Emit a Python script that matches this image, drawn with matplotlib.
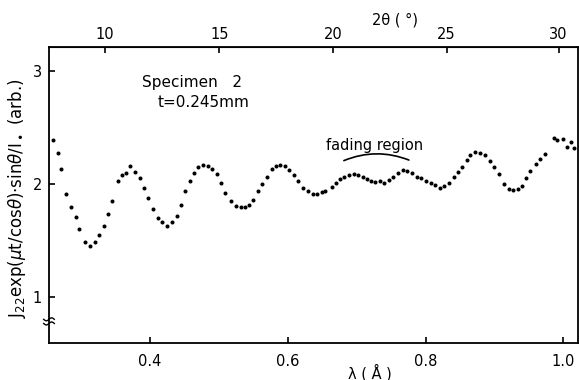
# -*- coding: utf-8 -*-
r"""
Recreates the transmission spectrum plot for specimen 2 (dots vs. wavelength).
"""

#%% Imports
import numpy as np
import matplotlib
matplotlib.use('Agg')
import matplotlib.pyplot as plt

#%% Data
# wavelength [Angstrom]
lam = [0.2595, 0.2663, 0.2715, 0.2787, 0.2856, 0.2924, 0.2976, 0.3059, 0.3131, 0.3204,
       0.3266, 0.3330, 0.3392, 0.3455, 0.3533, 0.3591, 0.3653, 0.3716, 0.3780, 0.3852,
       0.3914, 0.3977, 0.4041, 0.4113, 0.4175, 0.4244, 0.4321, 0.4389, 0.4451, 0.4516,
       0.4577, 0.4635, 0.4702, 0.4774, 0.4843, 0.4905, 0.4969, 0.5031, 0.5094, 0.5172,
       0.5249, 0.5317, 0.5384, 0.5442, 0.5495, 0.5568, 0.5630, 0.5694, 0.5766, 0.5829,
       0.5887, 0.5955, 0.6022, 0.6094, 0.6152, 0.6225, 0.6297, 0.6370, 0.6431, 0.6492,
       0.6544, 0.6637, 0.6699, 0.6757, 0.6819, 0.6888, 0.6956, 0.7022, 0.7086, 0.7144,
       0.7202, 0.7265, 0.7337, 0.7395, 0.7463, 0.7530, 0.7603, 0.7666, 0.7733, 0.7801,
       0.7869, 0.7936, 0.8004, 0.8073, 0.8139, 0.8207, 0.8273, 0.8338, 0.8410, 0.8473,
       0.8531, 0.8595, 0.8647, 0.8719, 0.8792, 0.8860, 0.8933, 0.8995, 0.9059, 0.9136,
       0.9204, 0.9266, 0.9334, 0.9392, 0.9455, 0.9517, 0.9595, 0.9662, 0.9735, 0.9865,
       0.9909, 0.9987, 1.0054, 1.0107, 1.0155]
# normalized intensity [arb.]
inten = [2.387, 2.269, 2.133, 1.912, 1.796, 1.703, 1.596, 1.481, 1.449, 1.481,
         1.549, 1.628, 1.735, 1.850, 2.024, 2.074, 2.092, 2.159, 2.104, 2.053,
         1.965, 1.873, 1.773, 1.699, 1.664, 1.626, 1.661, 1.714, 1.812, 1.938,
         2.027, 2.092, 2.145, 2.163, 2.159, 2.127, 2.086, 2.004, 1.920, 1.847,
         1.805, 1.791, 1.796, 1.814, 1.853, 1.938, 1.997, 2.062, 2.133, 2.159,
         2.168, 2.159, 2.121, 2.080, 2.024, 1.965, 1.938, 1.912, 1.913, 1.927,
         1.938, 1.971, 2.004, 2.044, 2.057, 2.074, 2.083, 2.074, 2.062, 2.044,
         2.027, 2.012, 2.024, 2.004, 2.030, 2.062, 2.092, 2.121, 2.115, 2.097,
         2.057, 2.048, 2.027, 2.004, 1.986, 1.966, 1.980, 2.006, 2.059, 2.101,
         2.145, 2.207, 2.251, 2.283, 2.269, 2.254, 2.198, 2.148, 2.088, 1.995,
         1.953, 1.944, 1.950, 1.982, 2.048, 2.110, 2.174, 2.216, 2.260, 2.404,
         2.384, 2.393, 2.327, 2.366, 2.313]

x_ticks  = [0.4, 0.6, 0.8, 1.0]
y_ticks  = [1, 2, 3]
tt_ticks = [10, 15, 20, 25, 30]
two_d    = 3.837  # lattice spacing 2d [Angstrom] used for the 2-theta axis

#%% Helpers
def lam_to_tt(x):
    return 2 * np.degrees(np.arcsin(np.clip(np.asarray(x) / two_d, -1, 1)))

def tt_to_lam(t):
    return two_d * np.sin(np.radians(np.asarray(t) / 2))

#%% Plot
plt.rcParams['font.family'] = 'DejaVu Sans'
fig = plt.figure(figsize=(5.79, 3.80), dpi=100)
ax = fig.add_axes([0.0846, 0.0974, 0.9134, 0.7786])

ax.plot(lam, inten, linestyle='none', marker='o', markersize=1.9, color='black')

ax.set_xlim(0.2537, 1.0209)
ax.set_ylim(0.59, 3.21)
ax.set_xticks(x_ticks)
ax.set_xticklabels(['0.4', '0.6', '0.8', '1.0'])
ax.set_yticks(y_ticks)
ax.tick_params(direction='in', length=4, width=1.2, labelsize=10.5, pad=8)
ax.tick_params(axis='y', pad=5)
for s in ax.spines.values():
    s.set_linewidth(1.3)

ax.set_xlabel(u'\u03bb ( \u00c5 )', fontsize=10.5)
ax.xaxis.set_label_coords(0.607, -0.07)
ax.set_ylabel(r'J$_{22}$exp($\mu$t/cos$\theta$)$\cdot$sin$\theta$/I$_\bullet$ (arb.)', fontsize=12)
ax.yaxis.set_label_coords(-0.040, 0.49)

# top 2-theta axis
sec = ax.secondary_xaxis('top', functions=(lam_to_tt, tt_to_lam))
sec.set_xticks(tt_ticks)
sec.tick_params(direction='in', length=4, width=1.2, labelsize=10.5, pad=4)
ax.text(0.654, 1.092, u'2\u03b8 ( \u00b0)', transform=ax.transAxes, fontsize=10.5,
        ha='center', va='center')

# y-axis break marks
for yb in [0.066, 0.080]:
    xs = np.linspace(-0.01, 0.01, 20)
    ax.plot(xs, yb + 0.005 * np.sin(xs / 0.01 * np.pi), transform=ax.transAxes,
            color='black', linewidth=1.0, clip_on=False)

# annotations
ax.text(0.175, 0.882, 'Specimen   2', transform=ax.transAxes, fontsize=11, va='center')
ax.text(0.205, 0.814, 't=0.245mm', transform=ax.transAxes, fontsize=11, va='center')
ax.text(0.7255, 2.34, 'fading region', fontsize=10.5, ha='center', va='center')
ax.annotate('', xy=(0.7758, 2.21), xytext=(0.6815, 2.205),
            arrowprops=dict(arrowstyle='-', connectionstyle='arc3,rad=-0.2', linewidth=1.2,
                            color='black', shrinkA=0, shrinkB=0))

fig.savefig('out.png', dpi=100)
